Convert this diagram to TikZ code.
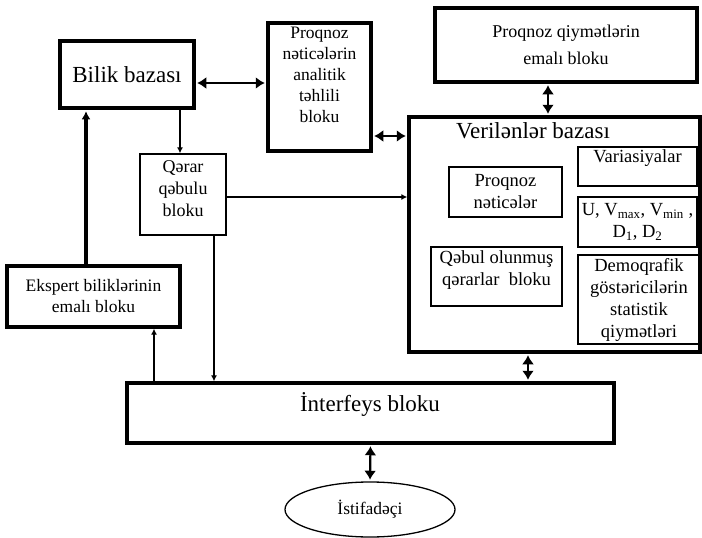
\documentclass[tikz,border=0pt]{standalone}
\usepackage{fontspec}
\setmainfont{Liberation Serif}
\usetikzlibrary{arrows.meta,shapes.geometric}

\tikzset{
  blok/.style={draw, line width=3.3pt, inner sep=0pt, align=center, font=\fontsize{17.5}{21}\selectfont},
  nazik/.style={draw, line width=1.3pt, inner sep=0pt, align=center, font=\fontsize{18.5}{22}\selectfont},
  yazi/.style={inner sep=0pt, align=center, font=\fontsize{17.5}{21}\selectfont},
  boyuk/.style={inner sep=0pt, font=\fontsize{23}{27}\selectfont},
  ikiox/.style={{Latex[length=9pt,width=12pt]}-{Latex[length=9pt,width=12pt]}, line width=2.2pt, shorten <=1.6pt, shorten >=1.6pt},
  ox/.style={-{Latex[length=6pt,width=6pt]}, line width=1.2pt},
  qalinox/.style={-{Latex[length=8pt,width=9pt]}, line width=3.2pt, shorten >=1.6pt}
}

\begin{document}
\begin{tikzpicture}[x=1pt, y=-1pt]
\useasboundingbox (0,0) rectangle (702,538);

% bloklar
\node[blok, boyuk, minimum width=134pt, minimum height=67pt] (bilik) at (127,74.5) {Bilik bazası};
\node[blok, minimum width=103pt, minimum height=128pt] (analitik) at (319.5,87) {};
\node[yazi] (analitikY) at (319.5,75) {Proqnoz\\nəticələrin\\analitik\\təhlili\\bloku};
\node[blok, font=\fontsize{18}{27}\selectfont, minimum width=262pt, minimum height=74pt] (qiymet) at (566,45) {Proqnoz qiymətlərin\\emalı bloku};
\node[nazik, minimum width=86pt, minimum height=81pt] (qerar) at (183,194.5) {};
\node[yazi, font=\fontsize{18}{22}\selectfont] (qerarY) at (183,189) {Qərar\\qəbulu\\bloku};
\node[blok, minimum width=173pt, minimum height=61pt] (ekspert) at (93.5,296.5) {Ekspert biliklərinin\\emalı bloku};

% verilenler bazasi
\node[blok, minimum width=291pt, minimum height=235pt] (verilen) at (554.5,234.5) {};
\node[boyuk, anchor=base] (verilenY) at (533,138) {Verilənlər bazası};
\node[nazik, minimum width=113pt, minimum height=50pt] (netice) at (505.5,192) {Proqnoz\\nəticələr};
\node[nazik, minimum width=131pt, minimum height=59pt] (qebul) at (496.5,276.5) {};
\node[yazi, font=\fontsize{18.5}{22}\selectfont] (qebulY) at (496.5,270) {Qəbul olunmuş\\qərarlar\ \ bloku};
\node[nazik, minimum width=119pt, minimum height=39pt] (variasiya) at (637.5,166.5) {};
\node[yazi, font=\fontsize{18.5}{22}\selectfont] (variasiyaY) at (637.5,158) {Variasiyalar};
\node[nazik, minimum width=119pt, minimum height=50pt] (ubox) at (637.5,222) {U, V\textsubscript{max}, V\textsubscript{min} ,\\D\textsubscript{1}, D\textsubscript{2}};
\node[nazik, minimum width=122pt, minimum height=89pt] (demoq) at (639,299.5) {Demoqrafik\\göstəricilərin\\statistik\\qiymətləri};

% interfeys ve istifadeci
\node[blok, minimum width=487pt, minimum height=60pt] (interfeys) at (370.5,413) {};
\node[boyuk, anchor=base] (interfeysY) at (370,411) {İnterfeys bloku};
\node[draw, ellipse, line width=1.3pt, minimum width=170pt, minimum height=55pt, inner sep=0pt, font=\fontsize{17.5}{21}\selectfont] (istifadeci) at (370,509.5) {İstifadəçi};

% oxlar
\draw[ikiox] ([yshift=-8.5pt]bilik.east) -- ([yshift=-8.5pt]bilik.east -| analitik.west);
\draw[ikiox] ([yshift=-49pt]analitik.east) -- ([yshift=-49pt]analitik.east -| verilen.west);
\draw[ikiox] ([xshift=-18pt]qiymet.south) -- ([xshift=-18pt]qiymet.south |- verilen.north);
\draw[ox] ([xshift=53pt]bilik.south) -- ([xshift=53pt]bilik.south |- qerar.north);
\draw[ox] ([yshift=-2.5pt]qerar.east) -- ([yshift=-2.5pt]qerar.east -| verilen.west);
\draw[ox] ([xshift=31pt]qerar.south) -- ([xshift=31pt]qerar.south |- interfeys.north);
\draw[ox] ([xshift=60.5pt]ekspert.south |- interfeys.north) -- ([xshift=60.5pt]ekspert.south);
\draw[qalinox] ([xshift=-7.5pt]ekspert.north) -- ([xshift=-7.5pt]ekspert.north |- bilik.south);
\draw[ikiox] ([xshift=-26.5pt]verilen.south) -- ([xshift=-26.5pt]verilen.south |- interfeys.north);
\draw[ikiox] (interfeys.south) -- (istifadeci.north);
\end{tikzpicture}
\end{document}
